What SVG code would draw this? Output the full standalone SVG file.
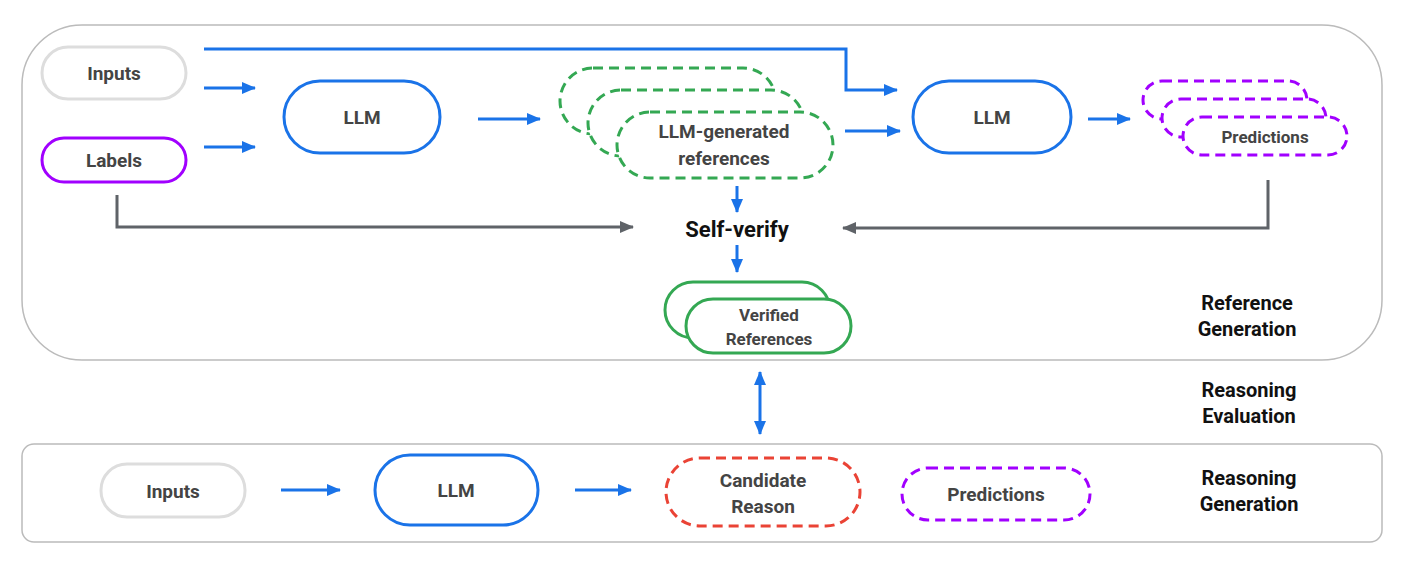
<svg xmlns="http://www.w3.org/2000/svg" width="1412" height="565" viewBox="0 0 1412 565">
<defs>
<marker id="ab" markerWidth="8" markerHeight="8" refX="7" refY="4" orient="auto" markerUnits="userSpaceOnUse" viewBox="0 0 8 8"><path d="M0,0 L8,4 L0,8 z" fill="#1a73e8"/></marker>
<marker id="abl" markerWidth="14" markerHeight="12" refX="13" refY="6" orient="auto" markerUnits="userSpaceOnUse"><path d="M0,0 L14,6 L0,12 z" fill="#1a73e8"/></marker>
<marker id="ag" markerWidth="14" markerHeight="12" refX="13" refY="6" orient="auto" markerUnits="userSpaceOnUse"><path d="M0,0 L14,6 L0,12 z" fill="#5f6368"/></marker>
<marker id="abs" markerWidth="14" markerHeight="12" refX="13" refY="6" orient="auto-start-reverse" markerUnits="userSpaceOnUse"><path d="M0,0 L14,6 L0,12 z" fill="#1a73e8"/></marker>
</defs>
<style>
text{font-family:Roboto,"Liberation Sans",sans-serif;font-weight:bold;text-anchor:middle;dominant-baseline:central}
.n{font-size:19px;fill:#444}
.s{font-size:17px;fill:#444}
.h{font-size:20px;fill:#111}
.frame{fill:#fff;stroke:#bbb;stroke-width:1.5}
.gray{fill:#fff;stroke:#ddd;stroke-width:3}
.blue{fill:#fff;stroke:#1a73e8;stroke-width:3}
.purp{fill:#fff;stroke:#a100ff;stroke-width:3}
.purpd{fill:#fff;stroke:#a100ff;stroke-width:3;stroke-dasharray:10 6}
.greend{fill:#fff;stroke:#34a853;stroke-width:3;stroke-dasharray:10 6}
.green{fill:#fff;stroke:#34a853;stroke-width:3}
.redd{fill:#fff;stroke:#ea4335;stroke-width:3;stroke-dasharray:10 6}
.cb{fill:none;stroke:#1a73e8;stroke-width:3}
.cg{fill:none;stroke:#5f6368;stroke-width:3}
</style>
<rect class="frame" x="22" y="25" width="1360" height="335" rx="60"/>
<rect class="frame" x="22" y="444" width="1360" height="98" rx="12"/>
<g id="inputs1"><rect class="gray" x="42" y="47" width="144" height="52" rx="26"/><text class="n" x="114" y="73">Inputs</text></g>
<g id="labels"><rect class="purp" x="42" y="138" width="144" height="44" rx="22"/><text class="n" x="114" y="160">Labels</text></g>
<g id="llm1"><rect class="blue" x="284" y="81" width="156" height="72" rx="36"/><text class="n" x="362" y="117">LLM</text></g>
<g id="llmrefs">
<rect class="greend" x="560" y="68" width="216" height="66" rx="33"/>
<rect class="greend" x="588" y="90" width="216" height="66" rx="33"/>
<rect class="greend" x="617" y="112" width="216" height="66" rx="33"/>
<text class="n" x="724" y="131">LLM-generated</text><text class="n" x="724" y="158">references</text></g>
<g id="llm2"><rect class="blue" x="913" y="81" width="158" height="72" rx="36"/><text class="n" x="992" y="117">LLM</text></g>
<g id="preds1">
<rect class="purpd" x="1143" y="81" width="164" height="38" rx="19"/>
<rect class="purpd" x="1162" y="99" width="164" height="38" rx="19"/>
<rect class="purpd" x="1183" y="117" width="164" height="38" rx="19"/>
<text class="s" x="1265" y="137">Predictions</text></g>
<g id="selfverify"><text x="737" y="229" style="font-size:22px;fill:#111">Self-verify</text></g>
<g id="verified">
<rect class="green" x="665" y="282" width="165" height="56" rx="28"/>
<rect class="green" x="686" y="299" width="165" height="54" rx="27"/>
<text class="s" x="769" y="315">Verified</text><text class="s" x="769" y="339">References</text></g>
<g id="stagelabels">
<text class="h" x="1247" y="303">Reference</text><text class="h" x="1247" y="329">Generation</text>
<text class="h" x="1249" y="390">Reasoning</text><text class="h" x="1249" y="416">Evaluation</text>
<text class="h" x="1249" y="478">Reasoning</text><text class="h" x="1249" y="504">Generation</text></g>
<g id="inputs2"><rect class="gray" x="101" y="464" width="144" height="53" rx="26"/><text class="n" x="173" y="491">Inputs</text></g>
<g id="llm3"><rect class="blue" x="375" y="455" width="163" height="70" rx="35"/><text class="n" x="456" y="490">LLM</text></g>
<g id="candidate"><rect class="redd" x="666" y="458" width="194" height="68" rx="34"/><text class="n" x="763" y="480">Candidate</text><text class="n" x="763" y="506">Reason</text></g>
<g id="preds2"><rect class="purpd" x="902" y="468" width="188" height="52" rx="26"/><text class="n" x="996" y="494">Predictions</text></g>
<g id="connectors">
<path class="cb" d="M204,88 H255" marker-end="url(#abl)"/>
<path class="cb" d="M204,147 H255" marker-end="url(#abl)"/>
<path class="cb" d="M478,119 H540" marker-end="url(#abl)"/>
<path class="cb" d="M204,49 H846 V90 H897" marker-end="url(#abl)"/>
<path class="cb" d="M845,131 H900" marker-end="url(#abl)"/>
<path class="cb" d="M1088,119 H1130" marker-end="url(#abl)"/>
<path class="cg" d="M117,195 V227 H633" marker-end="url(#ag)"/>
<path class="cg" d="M1268,180 V228 H843" marker-end="url(#ag)"/>
<path class="cb" d="M737,186 V212" marker-end="url(#abl)"/>
<path class="cb" d="M737,245 V272" marker-end="url(#abl)"/>
<path class="cb" d="M760,372 V434" marker-start="url(#abs)" marker-end="url(#abs)"/>
<path class="cb" d="M281,490 H340" marker-end="url(#abl)"/>
<path class="cb" d="M575,490 H631" marker-end="url(#abl)"/>
</g>
</svg>
